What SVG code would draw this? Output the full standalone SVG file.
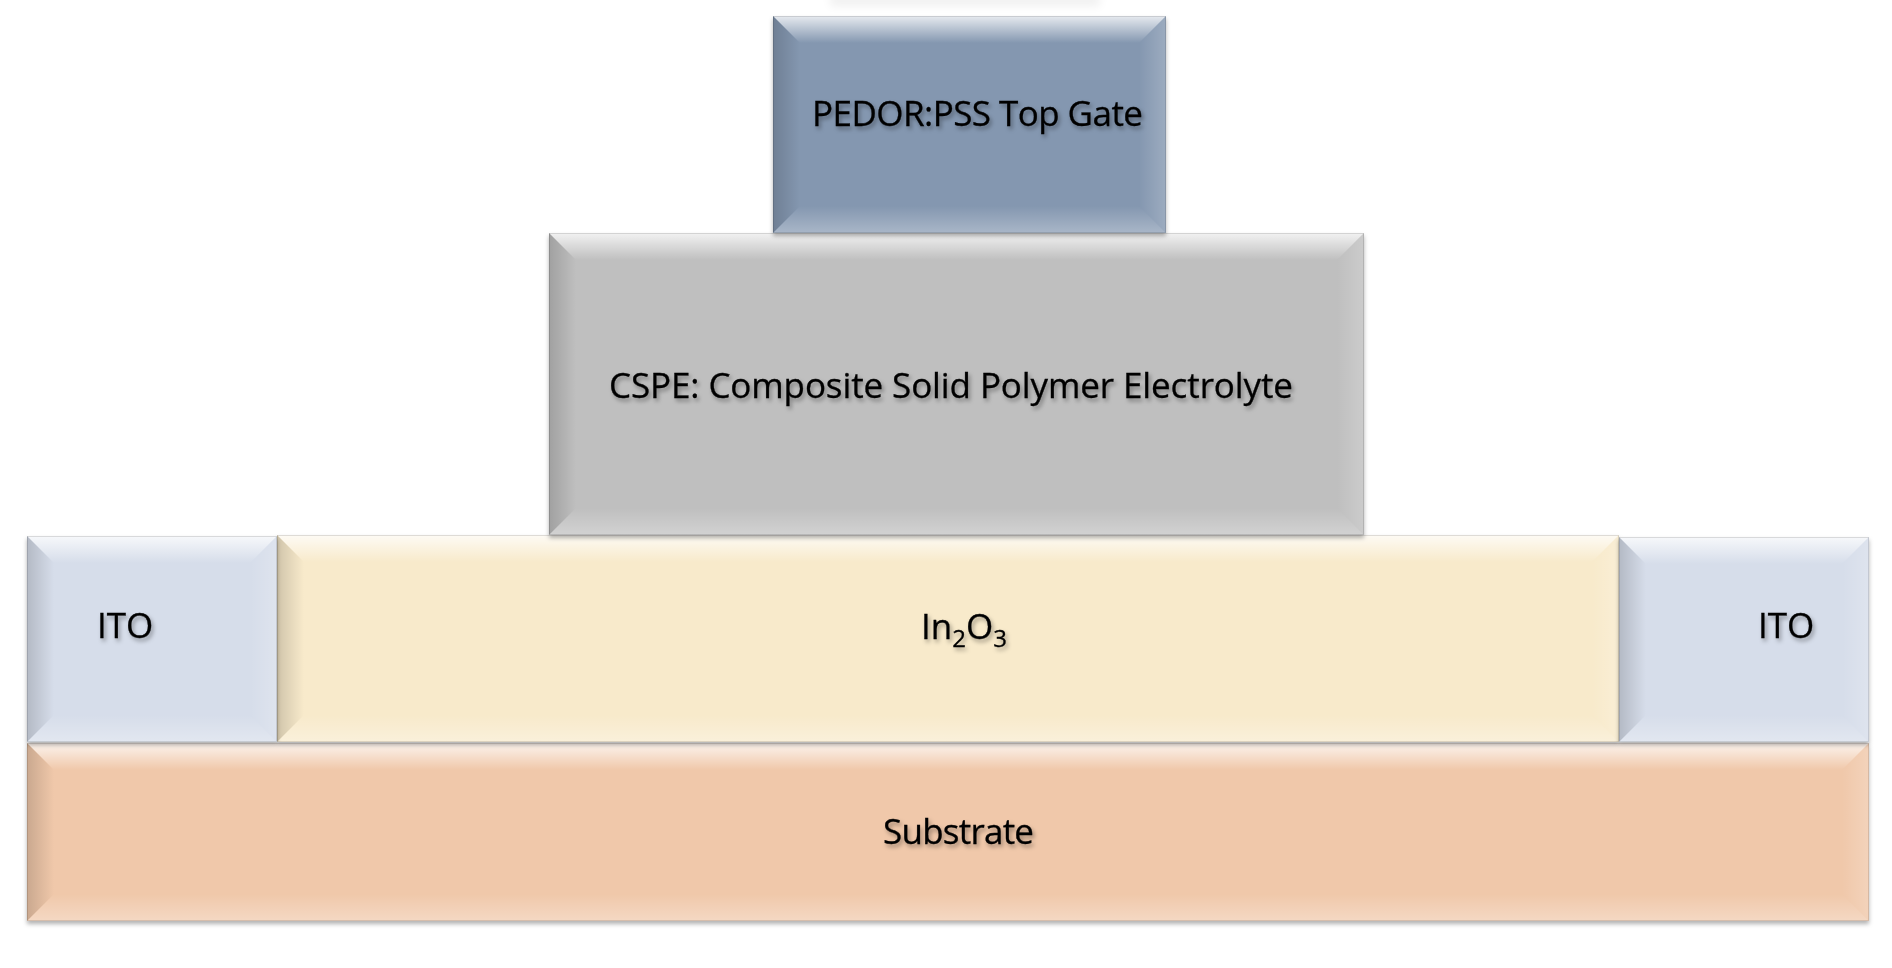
<svg xmlns="http://www.w3.org/2000/svg" width="1892" height="968" viewBox="0 0 1892 968">
<defs>
<linearGradient id="gTop" x1="0" y1="0" x2="0" y2="1"><stop offset="0" stop-color="#fff" stop-opacity="0.8"/><stop offset="1" stop-color="#fff" stop-opacity="0"/></linearGradient>
<linearGradient id="gLeft" x1="0" y1="0" x2="1" y2="0"><stop offset="0" stop-color="#000" stop-opacity="0.16"/><stop offset="1" stop-color="#000" stop-opacity="0"/></linearGradient>
<linearGradient id="gRight" x1="0" y1="0" x2="1" y2="0"><stop offset="0" stop-color="#fff" stop-opacity="0"/><stop offset="1" stop-color="#fff" stop-opacity="0.2"/></linearGradient>
<linearGradient id="gBot" x1="0" y1="0" x2="0" y2="1"><stop offset="0" stop-color="#fff" stop-opacity="0"/><stop offset="1" stop-color="#fff" stop-opacity="0.3"/></linearGradient>
<filter id="sh" x="-5%" y="-5%" width="110%" height="115%"><feDropShadow dx="0" dy="3" stdDeviation="2" flood-color="#000" flood-opacity="0.3"/></filter>
<filter id="ts" x="-10%" y="-30%" width="120%" height="160%"><feDropShadow dx="2" dy="3" stdDeviation="2" flood-color="#000" flood-opacity="0.35"/></filter>
<filter id="blur" x="-20%" y="-100%" width="140%" height="300%"><feGaussianBlur stdDeviation="5"/></filter>
</defs>
<style>
.t{font-family:"Open Sans","Noto Sans","Liberation Sans",sans-serif;font-size:35px;fill:#000;stroke:#000;stroke-width:0.3;filter:url(#ts)}
.top{fill:url(#gTop)}.left{fill:url(#gLeft)}.right{fill:url(#gRight)}.bot{fill:url(#gBot)}
.edge{fill:none;stroke:#000;stroke-opacity:0.12;stroke-width:1}
</style>
<rect width="1892" height="968" fill="#fff"/>
<rect x="830" y="-6" width="270" height="12" fill="#000" opacity="0.06" filter="url(#blur)"/>

<g id="substrate">
<rect x="27" y="743" width="1842" height="178" fill="#F0C8AA" filter="url(#sh)"/>
<polygon class="top" points="27,743 1869,743 1842,770 54,770"/>
<polygon class="left" points="27,743 54,770 54,894 27,921"/>
<polygon class="right" points="1869,743 1842,770 1842,894 1869,921"/>
<polygon class="bot" points="27,921 54,894 1842,894 1869,921"/>
<rect class="edge" x="27.5" y="743.5" width="1841" height="177"/>
<text class="t" x="883" y="844" textLength="151">Substrate</text>
</g>

<g id="in2o3">
<rect x="277" y="535" width="1342" height="207" fill="#F8EACB" filter="url(#sh)"/>
<polygon class="top" points="277,535 1619,535 1592,562 304,562"/>
<polygon class="left" points="277,535 304,562 304,715 277,742"/>
<polygon class="right" points="1619,535 1592,562 1592,715 1619,742"/>
<polygon class="bot" points="277,742 304,715 1592,715 1619,742"/>
<rect class="edge" x="277.5" y="535.5" width="1341" height="206"/>
<text class="t" x="921" y="639">In<tspan font-size="24" dy="8">2</tspan><tspan dy="-8">O</tspan><tspan font-size="24" dy="8">3</tspan></text>
</g>

<g id="ito-left">
<rect x="27" y="536" width="250" height="206" fill="#D6DDEA" filter="url(#sh)"/>
<polygon class="top" points="27,536 277,536 250,563 54,563"/>
<polygon class="left" points="27,536 54,563 54,715 27,742"/>
<polygon class="right" points="277,536 250,563 250,715 277,742"/>
<polygon class="bot" points="27,742 54,715 250,715 277,742"/>
<rect class="edge" x="27.5" y="536.5" width="249" height="205"/>
<text class="t" x="97" y="638">ITO</text>
</g>

<g id="ito-right">
<rect x="1619" y="537" width="250" height="205" fill="#D6DDEA" filter="url(#sh)"/>
<polygon class="top" points="1619,537 1869,537 1842,564 1646,564"/>
<polygon class="left" points="1619,537 1646,564 1646,715 1619,742"/>
<polygon class="right" points="1869,537 1842,564 1842,715 1869,742"/>
<polygon class="bot" points="1619,742 1646,715 1842,715 1869,742"/>
<rect class="edge" x="1619.5" y="537.5" width="249" height="204"/>
<text class="t" x="1758" y="638">ITO</text>
</g>

<g id="cspe">
<rect x="549" y="233" width="815" height="302" fill="#BFBFBF" filter="url(#sh)"/>
<polygon class="top" points="549,233 1364,233 1337,260 576,260"/>
<polygon class="left" points="549,233 576,260 576,508 549,535"/>
<polygon class="right" points="1364,233 1337,260 1337,508 1364,535"/>
<polygon class="bot" points="549,535 576,508 1337,508 1364,535"/>
<rect class="edge" x="549.5" y="233.5" width="814" height="301"/>
<text class="t" x="609" y="398" textLength="684">CSPE: Composite Solid Polymer Electrolyte</text>
</g>

<g id="top-gate">
<rect x="773" y="16" width="393" height="217" fill="#8497B0" filter="url(#sh)"/>
<polygon class="top" points="773,16 1166,16 1139,43 800,43"/>
<polygon class="left" points="773,16 800,43 800,206 773,233"/>
<polygon class="right" points="1166,16 1139,43 1139,206 1166,233"/>
<polygon class="bot" points="773,233 800,206 1139,206 1166,233"/>
<rect class="edge" x="773.5" y="16.5" width="392" height="216"/>
<text class="t" x="812" y="126" textLength="331">PEDOR:PSS Top Gate</text>
</g>

<g id="connectors"></g>
</svg>
